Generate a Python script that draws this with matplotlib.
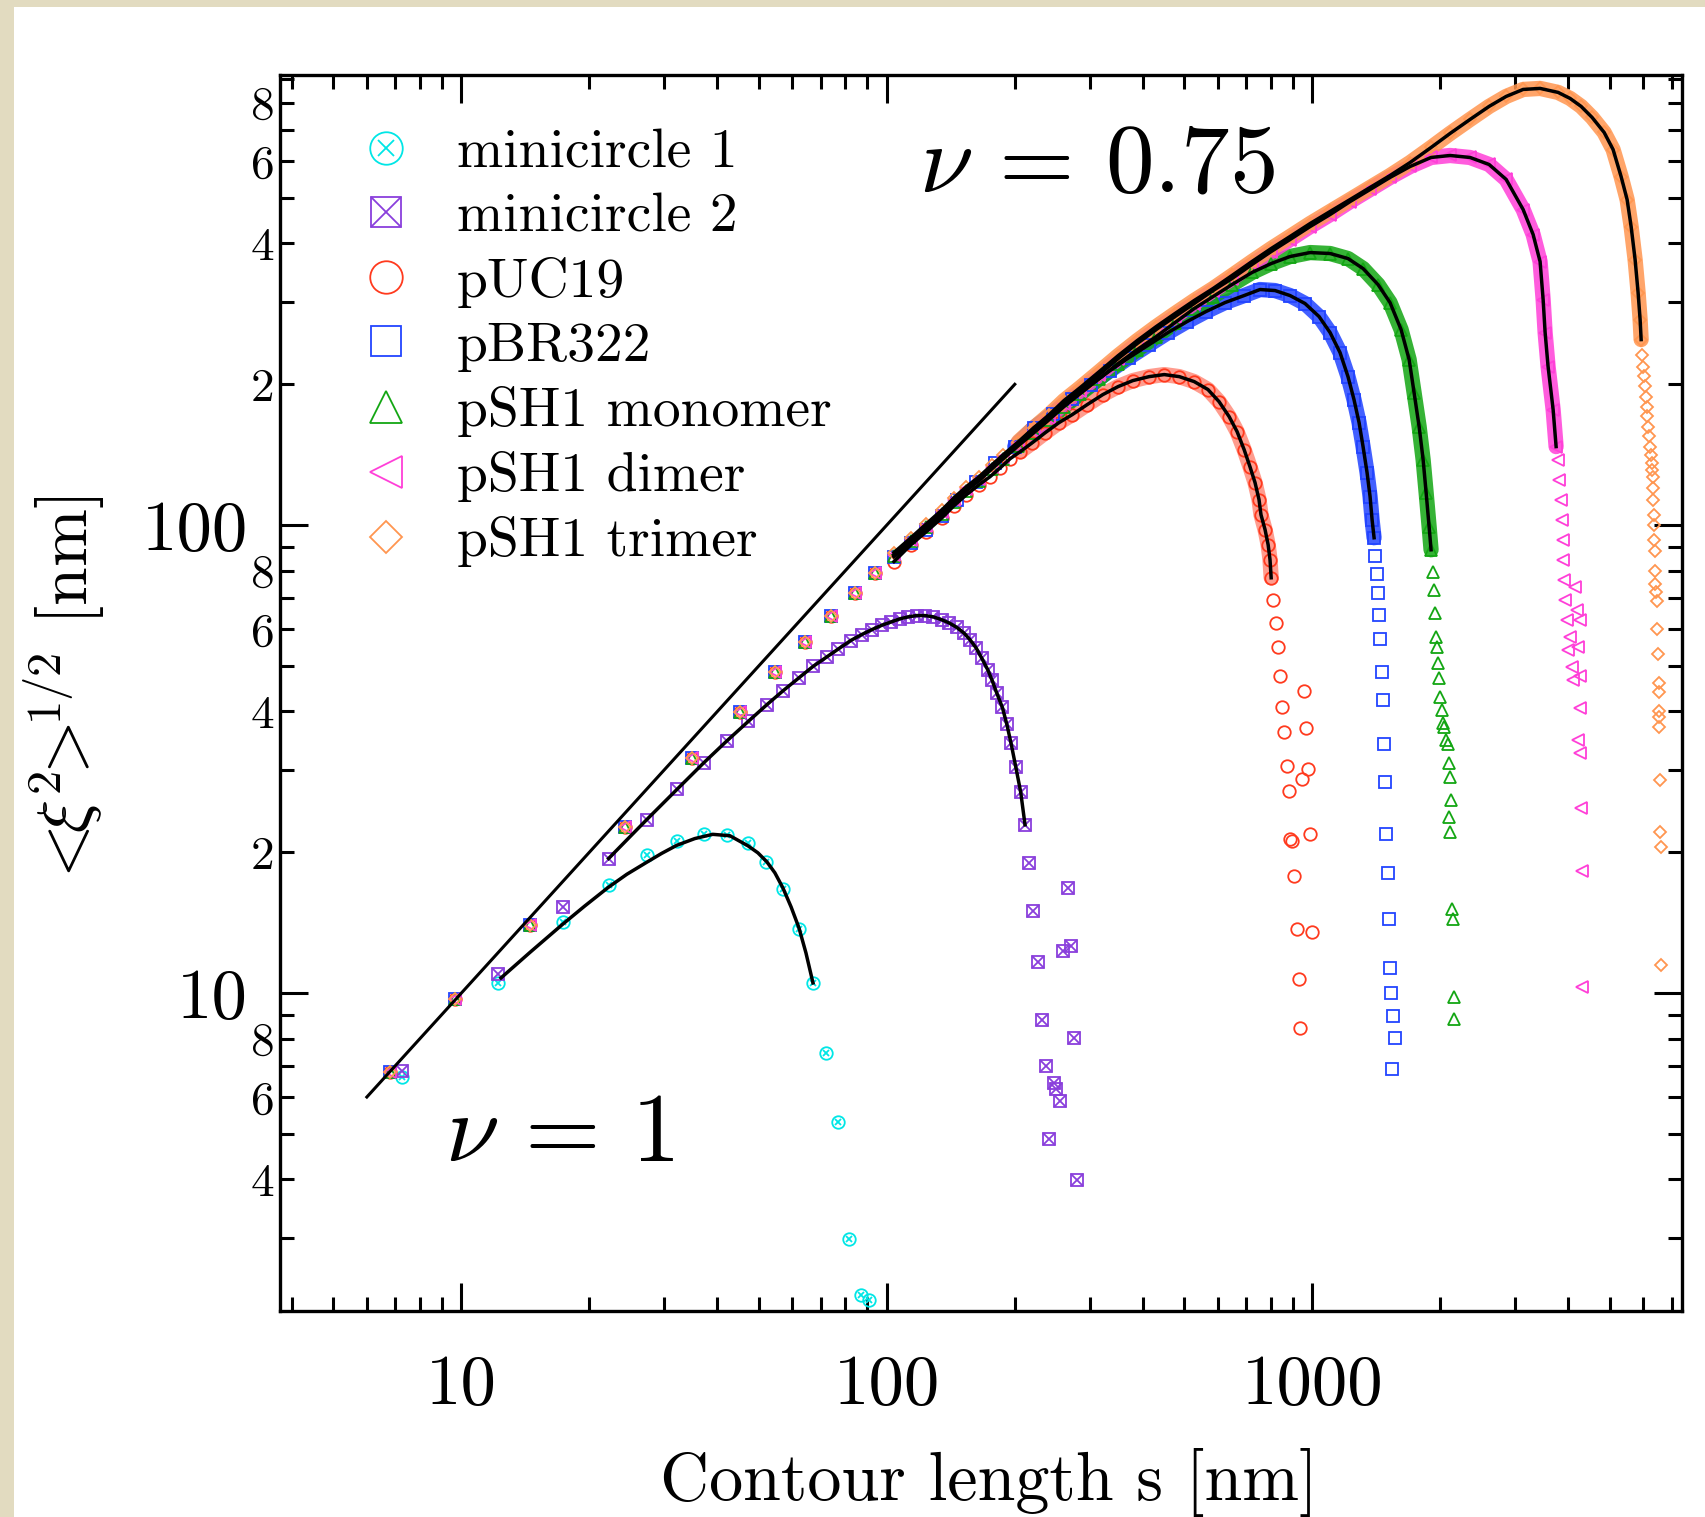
import matplotlib
matplotlib.use("Agg")
import matplotlib.pyplot as plt
from matplotlib.legend_handler import HandlerTuple
from matplotlib.patches import Rectangle
from matplotlib.ticker import FixedLocator, FixedFormatter, NullFormatter

plt.rcParams["font.family"] = "serif"
plt.rcParams["font.serif"] = ["cmr10"]
plt.rcParams["mathtext.fontset"] = "cm"
plt.rcParams["axes.formatter.use_mathtext"] = True

# ---- data: contour length s [nm] vs <xi^2>^(1/2) [nm] ----
# first points shared by the five plasmids (s < 100 nm)
EARLY_S = [6.8, 9.65, 14.5, 24.3, 34.9, 45.1, 54.6, 64.3, 74.1, 84.4, 93.8]
EARLY_V = [6.8, 9.73, 14.0, 22.7, 31.8, 39.8, 48.5, 56.4, 64.1, 71.7, 79.0]

MC1_S = [7.25, 12.2, 17.3, 22.2, 27.3, 32.2, 37.2, 42.1, 47.3, 52.0, 57.1, 62.2,
         67.0, 71.9, 76.8, 81.7, 87.2, 91.1]
MC1_V = [6.62, 10.5, 14.2, 17.0, 19.7, 21.1, 21.9, 21.8, 20.9, 19.1, 16.7, 13.7,
         10.5, 7.44, 5.31, 2.98, 2.26, 2.21]
FIT1_S = [12.4, 14.5, 17.25, 19.5, 22.1, 24.5, 27.3, 29.6, 32.1, 35.4, 39.0, 42.8,
          47.2, 49.8, 52.3, 54.6, 57.0, 59.6, 62.2, 64.6, 67.1]
FIT1_V = [10.78, 12.22, 14.0, 15.35, 16.8, 17.95, 19.05, 19.9, 20.7, 21.4, 21.85,
          21.7, 20.65, 19.95, 19.08, 18.08, 16.80, 15.29, 13.79, 12.19, 10.52]

MC2_S = [7.25, 12.2, 17.3, 22.2, 27.3, 32.2, 37.2, 42.1, 47.3, 52.2, 57.1, 62.2,
         67.1, 72.3, 77.0, 82.3, 87.4, 92.2, 97.3, 102.3, 107.5, 112.4, 117.6, 123.0,
         128.7, 134.7, 140.3, 146.0, 152.0, 157.0, 162.2, 167.2, 172.8, 176.6, 181.4,
         187.0, 191.5, 196.0, 201.0, 206.5, 211.4,
         216.1, 266.4, 221.1, 270.7, 260.1, 226.4, 231.4, 275.4, 236.3, 247.7, 250.5,
         255.0, 240.5, 280.3]
MC2_V = [6.82, 11.0, 15.3, 19.4, 23.5, 27.3, 31.1, 34.6, 38.1, 41.3, 44.3, 47.2,
         49.9, 52.3, 54.4, 56.7, 58.4, 59.8, 61.1, 62.1, 63.1, 63.7, 64.1, 64.1,
         63.7, 62.8, 61.8, 60.5, 58.8, 56.9, 54.7, 52.0, 49.1, 46.8, 43.8,
         40.8, 37.6, 34.2, 30.5, 26.9, 22.9,
         19.0, 16.8, 15.0, 12.6, 12.3, 11.65, 8.77, 8.02, 6.99, 6.44, 6.24,
         5.88, 4.88, 3.98]
FIT2_FIRST, FIT2_LAST = 3, 40  # index range of MC2 covered by the fit

PUC_S = [104, 114, 124, 135, 144, 154, 165, 175, 185, 195, 206, 220, 236, 254, 273,
         296, 322, 350, 379, 414, 449, 487, 528, 569, 604, 638, 666, 692, 714, 734,
         750, 758, 775, 788, 796, 801]
PUC_V = [83.6, 90.8, 96.9, 103.8, 110.1, 116.2, 122.1, 127.0, 132.7, 138.7, 143.6,
         150.1, 157.7, 165.6, 172.3, 181.0, 190.1, 197.8, 203.7, 207.7, 209.8, 207.7,
         202.7, 194.9, 183.7, 170.6, 158.5, 145.0, 133.4, 123.3, 113.4, 105.3, 97.8,
         90.8, 84.4, 77.2]
PUC_TAIL_S = [809, 823, 832, 841, 957, 850, 968, 859, 873, 978, 947, 883, 989, 887,
              897, 907, 922, 999, 932, 937]
PUC_TAIL_V = [69.3, 61.9, 55.0, 47.5, 44.3, 40.9, 36.9, 36.2, 30.6, 30.2, 28.7, 27.1,
              21.9, 21.4, 21.1, 17.8, 13.7, 13.5, 10.7, 8.43]

PBR_S = [104, 114, 124, 135, 146, 162, 180, 200, 222, 246, 273, 302, 335, 371, 414,
         458, 508, 563, 624, 692, 754, 818, 887, 962, 1038, 1102, 1163, 1214, 1254,
         1289, 1317, 1346, 1368, 1383, 1398]
PBR_V = [85.6, 91.7, 97.8, 104.8, 113.4, 123.9, 136.0, 147.2, 161.6, 173.1, 186.4,
         199.7, 214.0, 228.0, 243.2, 257.9, 272.3, 286.1, 299.0, 309.5, 318.8, 317.2,
         309.5, 297.6, 279.1, 257.9, 233.7, 207.7, 185.5, 165.6, 147.2, 129.5, 115.1,
         102.7, 94.0]
PBR_TAIL_S = [1406, 1421, 1428, 1436, 1444, 1460, 1468, 1476, 1484, 1492, 1508, 1516,
              1524, 1533, 1550, 1566, 1541]
PBR_TAIL_V = [86.1, 78.8, 71.7, 64.4, 57.2, 48.6, 42.4, 34.0, 28.3, 21.9, 18.1, 14.4,
              11.3, 10.0, 8.94, 8.02, 6.89]

MONO_S = [104, 114, 124, 135, 144, 154, 165, 177, 188, 204, 222, 241, 261, 285, 316,
          350, 388, 430, 476, 528, 585, 648, 722, 801, 887, 989, 1102, 1214, 1317,
          1428, 1524, 1618, 1690, 1736, 1784, 1823, 1853, 1883, 1903]
MONO_V = [86.1, 92.6, 99.3, 105.8, 112.2, 118.6, 124.5, 132.1, 138.7, 147.9, 157.7,
          168.1, 179.2, 191.0, 205.7, 221.5, 237.2, 252.9, 271.0, 290.3, 308.0, 326.7,
          346.7, 362.3, 375.0, 382.4, 380.6, 371.3, 353.5, 326.7, 299.0, 261.8, 225.9,
          191.9, 162.4, 138.0, 117.3, 99.3, 88.6]
MONO_TAIL_S = [1924, 1934, 1945, 1956, 1966, 1977, 1988, 1998, 2020, 2031, 2042, 2064,
               2087, 2098, 2110, 2121, 2098, 2110, 2133, 2144, 2156, 2156]
MONO_TAIL_V = [79.6, 72.8, 65.0, 57.8, 55.0, 50.8, 47.2, 43.0, 40.3, 37.8, 37.1, 34.8,
               34.0, 31.1, 28.9, 25.9, 23.8, 22.1, 15.1, 14.4, 9.8, 8.8]

DIM_S = [104, 114, 124, 135, 144, 154, 165, 177, 188, 204, 222, 241, 261, 285, 316,
         350, 388, 430, 476, 528, 585, 648, 722, 801, 887, 989, 1102, 1228, 1368, 1524,
         1699, 1903, 2109, 2350, 2605, 2857, 3132, 3306, 3433, 3490, 3528, 3585, 3684,
         3744]
DIM_V = [86.5, 93.1, 99.8, 106.9, 113.4, 119.7, 125.8, 133.4, 140.1, 149.4, 159.2,
         169.8, 181.9, 193.9, 209.8, 227.0, 244.4, 261.8, 279.1, 297.6, 317.2, 336.5,
         360.6, 384.3, 407.7, 434.6, 461.1, 491.5, 521.5, 553.4, 584.0, 610.5, 616.5,
         610.5, 589.8, 548.0, 472.6, 417.9, 365.9, 303.5, 257.9, 218.2, 176.6, 147.2]
DIM_TAIL_S = [3785, 3805, 3847, 3868, 3889, 3889, 3910, 4150, 3931, 4195, 3974, 4264,
              4038, 4217, 3995, 4082, 4264, 4105, 4264, 4217, 4264, 4287, 4310, 4310]
DIM_TAIL_V = [138.0, 125.1, 113.4, 102.7, 93.1, 84.4, 76.5, 73.9, 69.3, 66.0, 62.8,
              62.8, 57.8, 55.0, 54.2, 49.8, 47.5, 46.8, 40.7, 34.8, 32.6, 24.9, 18.2,
              10.3]

TRI_S = [104, 114, 124, 135, 144, 154, 165, 177, 188, 204, 222, 241, 261, 285, 316,
         350, 388, 430, 476, 528, 585, 648, 722, 801, 887, 989, 1102, 1228, 1368, 1524,
         1699, 1903, 2109, 2350, 2605, 2857, 3132, 3433, 3785, 4038, 4287, 4549, 4856,
         5096, 5322, 5498, 5619, 5741, 5835, 5899, 5932]
TRI_V = [87.4, 94.0, 100.7, 107.9, 114.5, 120.9, 127.0, 134.7, 141.5, 150.8, 161.6,
         172.3, 184.6, 196.8, 212.9, 230.3, 248.0, 265.7, 283.3, 302.0, 320.4, 341.6,
         365.9, 390.0, 413.8, 441.1, 468.0, 496.4, 526.7, 558.6, 595.5, 641.2, 687.0,
         736.1, 784.8, 824.3, 853.2, 857.5, 840.8, 816.3, 784.8, 743.4, 690.4, 634.9,
         555.9, 496.4, 434.6, 369.5, 314.1, 275.0, 249.2]
TRI_TAIL_S = [5964, 5996, 6029, 6061, 6094, 6127, 6127, 6160, 6193, 6227, 6260, 6295,
              6295, 6328, 6328, 6328, 6363, 6363, 6363, 6397, 6397, 6397, 6432, 6466,
              6466, 6502, 6536, 6536, 6536, 6536, 6536, 6573, 6573, 6608, 6608]
TRI_TAIL_V = [231, 218, 208, 198, 188, 179, 171, 162, 155, 147, 141.5, 136, 131, 127,
              120, 113, 105, 100, 93, 88, 80, 75, 72, 69, 60, 53, 46, 44, 40, 39, 37,
              28.6, 22.1, 20.5, 11.5]

# nu = 1 reference line
NU1_S = [6.0, 200.0]
NU1_V = [6.0, 200.0]

LABELS = ["minicircle 1", "minicircle 2", "pUC19", "pBR322",
          "pSH1 monomer", "pSH1 dimer", "pSH1 trimer"]
COLORS = ["#00E6E6", "#8A3FDC", "#FF3A1E", "#2244FF", "#13A613", "#FF3FD8", "#FF9650"]

X_MAJOR = [10, 100, 1000]
X_MAJOR_LABELS = ["10", "100", "1000"]
Y_MAJOR = [10, 100]
Y_MAJOR_LABELS = ["10", "100"]
Y_MINOR_LABELS = {4: "4", 6: "6", 8: "8", 20: "2", 40: "4", 60: "6", 80: "8",
                  200: "2", 400: "4", 600: "6", 800: "8"}

# beyond this contour length the sampled points overlap into a solid band
DENSE_FROM = 200
BAND_ALPHA = [0.5, 0.85, 0.85, 0.85, 0.85]  # pUC19 circles stay more open

# ---- figure ----
fig = plt.figure(figsize=(17.06, 15.17), dpi=100)
fig.patch.set_facecolor("#E2DBC0")
fig.add_artist(Rectangle((14 / 1706, 0), 1, 1 - 7 / 1517, transform=fig.transFigure,
                         facecolor="white", edgecolor="none", zorder=-10))
ax = fig.add_axes([280 / 1706, 1 - 1311 / 1517, 1402 / 1706, 1236 / 1517])
ax.set_xscale("log")
ax.set_yscale("log")

ms = 9
mew = 1.3
kw = dict(linestyle="none", fillstyle="none", markeredgewidth=mew)

c = COLORS
h_mc1o, = ax.plot(MC1_S, MC1_V, marker="o", ms=ms, color=c[0], **kw)
h_mc1x, = ax.plot(MC1_S, MC1_V, marker="x", ms=ms * 0.5, color=c[0], **kw)
h_mc2s, = ax.plot(MC2_S, MC2_V, marker="s", ms=ms * 0.95, color=c[1], **kw)
h_mc2x, = ax.plot(MC2_S, MC2_V, marker="x", ms=ms * 0.95, color=c[1], **kw)

series = [
    (PUC_S, PUC_V, PUC_TAIL_S, PUC_TAIL_V, "o", ms),
    (PBR_S, PBR_V, PBR_TAIL_S, PBR_TAIL_V, "s", ms * 0.95),
    (MONO_S, MONO_V, MONO_TAIL_S, MONO_TAIL_V, "^", ms),
    (DIM_S, DIM_V, DIM_TAIL_S, DIM_TAIL_V, "<", ms),
    (TRI_S, TRI_V, TRI_TAIL_S, TRI_TAIL_V, "D", ms * 0.68),
]
handles = [(h_mc1o, h_mc1x), (h_mc2s, h_mc2x)]
for (s, v, ts, tv, mk, size), col, alpha in zip(series, c[2:], BAND_ALPHA):
    h, = ax.plot(EARLY_S + s + ts, EARLY_V + v + tv, marker=mk, ms=size, color=col, **kw)
    handles.append(h)
    # densely sampled stretch: markers merge into a band
    band = [(a, b) for a, b in zip(s, v) if a >= DENSE_FROM]
    ax.plot([a for a, _ in band], [b for _, b in band], color=col, lw=11,
            alpha=alpha, solid_capstyle="round", zorder=1.9)

# fitted curves
lw_fit = 2.5
ax.plot(FIT1_S, FIT1_V, color="black", lw=lw_fit, zorder=4)
ax.plot(MC2_S[FIT2_FIRST:FIT2_LAST + 1], MC2_V[FIT2_FIRST:FIT2_LAST + 1],
        color="black", lw=lw_fit, zorder=4)
for s, v, *_ in series:
    ax.plot(s, v, color="black", lw=lw_fit, zorder=4)
ax.plot(NU1_S, NU1_V, color="black", lw=2.2, zorder=4)

ax.set_xlim(3.75, 7400)
ax.set_ylim(2.094, 916)

# ticks
ax.xaxis.set_major_locator(FixedLocator(X_MAJOR))
ax.xaxis.set_major_formatter(FixedFormatter(X_MAJOR_LABELS))
x_minor = [m * d for d in (1, 10, 100, 1000) for m in range(2, 10)]
ax.xaxis.set_minor_locator(FixedLocator(x_minor))
ax.xaxis.set_minor_formatter(NullFormatter())
ax.yaxis.set_major_locator(FixedLocator(Y_MAJOR))
ax.yaxis.set_major_formatter(FixedFormatter(Y_MAJOR_LABELS))
y_minor = [m * d for d in (1, 10, 100) for m in range(2, 10)]
ax.yaxis.set_minor_locator(FixedLocator(y_minor))
ax.yaxis.set_minor_formatter(FixedFormatter([Y_MINOR_LABELS.get(t, "") for t in y_minor]))

ax.tick_params(which="both", direction="in", top=True, right=True, width=2.2)
ax.tick_params(which="major", length=20, labelsize=51)
ax.tick_params(which="minor", length=10, labelsize=34)
ax.tick_params(axis="x", which="major", pad=31)
ax.tick_params(axis="y", which="major", pad=23)
ax.tick_params(axis="y", which="minor", pad=4)
for sp in ax.spines.values():
    sp.set_linewidth(2.4)

ax.set_xlabel("Contour length s [nm]", fontsize=49)
ax.xaxis.set_label_coords(0.506, -0.111)
ax.set_ylabel(r"$\!\!<\!\!\xi^{2}\!\!>\!\!{}^{1/2}$ [nm]", fontsize=50)
ax.yaxis.set_label_coords(-0.122, 0.507)

ax.text(0.456, 0.906, r"$\nu\,=\,0.75$", transform=ax.transAxes, fontsize=70,
        ha="left", va="baseline")
ax.text(0.118, 0.121, r"$\nu\,=\,1$", transform=ax.transAxes, fontsize=70,
        ha="left", va="baseline")

ax.legend(handles, LABELS, loc="upper left", bbox_to_anchor=(0.0556, 0.9565),
          frameon=False, fontsize=40, markerscale=2.6, handlelength=1.0,
          handletextpad=0.78, labelspacing=0.255, borderpad=0, borderaxespad=0,
          numpoints=1, handler_map={tuple: HandlerTuple(ndivide=1, pad=0)})

fig.savefig("out.png", dpi=100, facecolor=fig.get_facecolor())
